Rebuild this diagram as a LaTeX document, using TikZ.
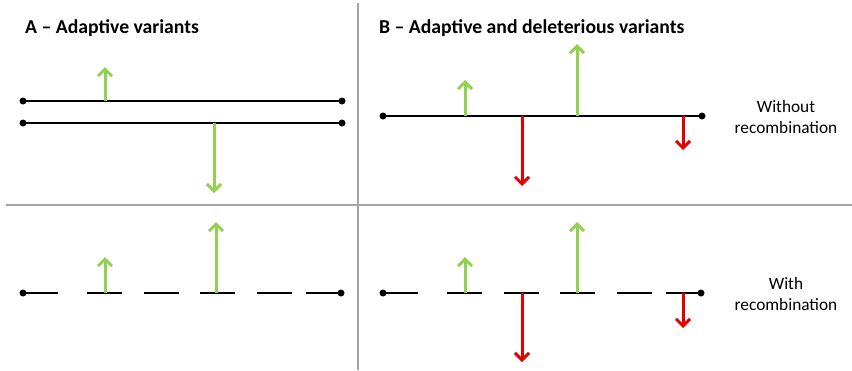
\documentclass[tikz,border=0pt]{standalone}
\usepackage{fontspec}
\setmainfont{Carlito}
\usetikzlibrary{arrows.meta,positioning,calc}

\definecolor{adaptgreen}{RGB}{146,208,80}
\definecolor{delred}{RGB}{226,0,0}
\definecolor{divgray}{RGB}{166,166,166}

\tikzset{
  chrom/.style={line width=1.6pt, black},
  enddot/.style={circle, fill=black, inner sep=0pt, minimum size=7pt},
  adapt/.style={line width=3pt, draw=adaptgreen, -{Straight Barb[length=7pt,width=14pt]}},
  delet/.style={line width=3pt, draw=delred, -{Straight Barb[length=7pt,width=14pt]}},
  divider/.style={line width=1.4pt, draw=divgray},
  paneltitle/.style={anchor=base west, inner sep=0pt, font=\fontsize{19.7}{23}\selectfont\bfseries},
  caselabel/.style={align=center, inner sep=0pt, font=\fontsize{17.3}{21}\selectfont}
}

\begin{document}
\begin{tikzpicture}[x=1pt,y=-1pt]
 \useasboundingbox (0,0) rectangle (852,370);
 % panel borders
 \coordinate (vtop) at (358,3);
 \coordinate (vbot) at (358,370);
 \coordinate (hleft) at (6,205);
 \coordinate (hright) at (852,205);
 \draw[divider] (vtop) -- (vbot);
 \draw[divider] (hleft) -- (hright);
 %
 \node[paneltitle] (titleA) at (25,33) {A – Adaptive variants};
 \node[paneltitle] (titleB) at (379,33) {B – Adaptive and deleterious variants};
 \node[caselabel] (without) at (786,117) {Without\\recombination};
 \node[caselabel] (with) at (786,294) {With\\recombination};
 %
 % without recombination: two haplotypes in A, one in B
 \node[enddot] (a1l) at (23,101) {};
 \node[enddot] (a1r) at (342,101) {};
 \node[enddot] (a2l) at (23,123) {};
 \node[enddot] (a2r) at (342,123) {};
 \node[enddot] (b1l) at (383,116) {};
 \node[enddot] (b1r) at (702,116) {};
 \draw[chrom] (a1l.center) -- (a1r.center);
 \draw[chrom] (a2l.center) -- (a2r.center);
 \draw[chrom] (b1l.center) -- (b1r.center);
 %
 % with recombination: broken haplotypes
 \foreach \dx/\p in {0/a,360/b} {
   \node[enddot] (\p3l) at ({23+\dx},293) {};
   \node[enddot] (\p3r) at ({341+\dx},293) {};
   \foreach \s [count=\i] in {0,64,121,177,234,283} {
     \coordinate (\p seg\i s) at ({23+\dx+\s},293);
     \coordinate (\p seg\i e) at ({58+\dx+\s},293);
     \draw[chrom] (\p seg\i s) -- (\p seg\i e);
   }
 }
 %
 % variants: name/x/base/tip/style
 \foreach \n/\x/\y/\t/\st in {
     va1/105/101/67/adapt, va2/214/123/193/adapt,
     va3/105/293/257/adapt, va4/216/293/222/adapt,
     vb1/465/116/80/adapt, vb2/577/116/44/adapt,
     vb3/522/116/186/delet, vb4/683/116/150/delet,
     vb5/465/293/257/adapt, vb6/577/293/222/adapt,
     vb7/522/293/362/delet, vb8/683/293/328/delet} {
   \coordinate (\n base) at (\x,\y);
   \coordinate (\n tip) at (\x,\t);
   \draw[\st] (\n base) -- (\n tip);
 }
\end{tikzpicture}
\end{document}
